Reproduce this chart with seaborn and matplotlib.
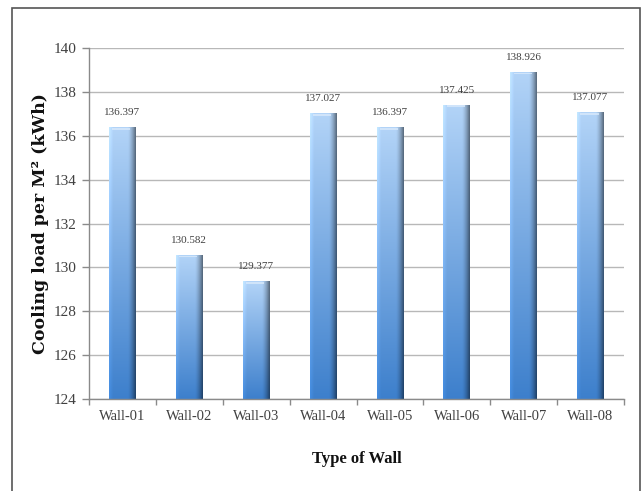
import numpy as np
import pandas as pd
import matplotlib
matplotlib.use("Agg")
import matplotlib.pyplot as plt
import seaborn as sns
from matplotlib.patches import Rectangle

walls = ["Wall-01", "Wall-02", "Wall-03", "Wall-04", "Wall-05", "Wall-06", "Wall-07", "Wall-08"]
loads = [136.397, 130.582, 129.377, 137.027, 136.397, 137.425, 138.926, 137.077]
value_labels = ["136.397", "130.582", "129.377", "137.027", "136.397", "137.425", "138.926", "137.077"]
y_ticks = [124, 126, 128, 130, 132, 134, 136, 138, 140]

df = pd.DataFrame({"wall": walls, "load": loads})

sns.set_style("white")
plt.rcParams["font.family"] = ["Liberation Serif", "DejaVu Serif"]

fig = plt.figure(figsize=(6.42, 4.91), dpi=100)
ax = fig.add_axes([0.1386, 0.1874, 0.8334, 0.7146])

sns.barplot(data=df, x="wall", y="load", ax=ax, width=0.4, color="#6fa3e0",
            edgecolor="none", linewidth=0)
ax.set_ylim(124, 140)
ax.set_xlim(-0.5, len(walls) - 0.5)

# gradient fill clipped to each bar
ny, nx = 100, 60
xs = np.linspace(0, 1, nx)
ys = np.linspace(0, 1, ny)  # 0 bottom, 1 top
X, Y = np.meshgrid(xs, ys)
top = np.array([0.70, 0.83, 0.97])
bot = np.array([0.24, 0.50, 0.80])
base = bot[None, None, :] * (1 - Y[..., None]) + top[None, None, :] * Y[..., None]
shade = np.where(X < 0.15, 1.0 + 0.10 * (0.15 - X) / 0.15, 1.0)
shade = shade - np.clip((X - 0.7) / 0.3, 0, 1) ** 1.5 * 0.5
img = np.clip(base * shade[..., None], 0, 1)

for patch in list(ax.patches):
    x0, y0 = patch.get_x(), patch.get_y()
    w, h = patch.get_width(), patch.get_height()
    y0 = max(y0, 124)
    top_y = patch.get_y() + h
    im = ax.imshow(img, extent=[x0, x0 + w, y0, top_y], origin="lower",
                   aspect="auto", zorder=2, interpolation="bilinear")
    im.set_clip_path(patch)
    ax.add_patch(Rectangle((x0 + w * 0.12, top_y - 0.12), w * 0.68, 0.08,
                           facecolor="#d8e9fb", edgecolor="none", zorder=3, alpha=0.8))
    patch.set_zorder(1)

ax.set_xlim(-0.5, len(walls) - 0.5)
ax.set_ylim(124, 140)

for i, (v, lab) in enumerate(zip(loads, value_labels)):
    ax.text(i, v + 0.45, lab, ha="center", va="bottom", fontsize=8, color="#404040")

ax.set_yticks(y_ticks)
ax.yaxis.grid(True, color="#b8b8b8", linewidth=1.0)
ax.set_axisbelow(True)

for s in ["top", "right"]:
    ax.spines[s].set_visible(False)
for s in ["left", "bottom"]:
    ax.spines[s].set_color("#8a8a8a")
    ax.spines[s].set_linewidth(1.0)

ax.tick_params(axis="y", direction="out", length=5, width=1, color="#8a8a8a",
               labelsize=11, labelcolor="#404040", pad=4, left=True)
ax.tick_params(axis="x", which="major", length=0, labelsize=10.5, labelcolor="#404040", pad=8)
ax.set_xticks(np.arange(-0.5, len(walls), 1.0), minor=True)
ax.tick_params(axis="x", which="minor", direction="out", length=4, width=1,
               color="#8a8a8a", bottom=True)

ax.set_xlabel("Type of Wall", fontsize=12, fontweight="bold", color="#111111", labelpad=20)
ax.set_ylabel("Cooling load per M² (kWh)", fontsize=12.5, fontweight="bold",
              color="#111111", labelpad=3, family=["DejaVu Serif"])

fig.patches.append(Rectangle((12 / 642, -0.01), (640 - 12) / 642, 1 - 8 / 491 + 0.01,
                             transform=fig.transFigure, fill=False,
                             edgecolor="#555555", linewidth=1.2))

fig.savefig("out.png", dpi=100)
